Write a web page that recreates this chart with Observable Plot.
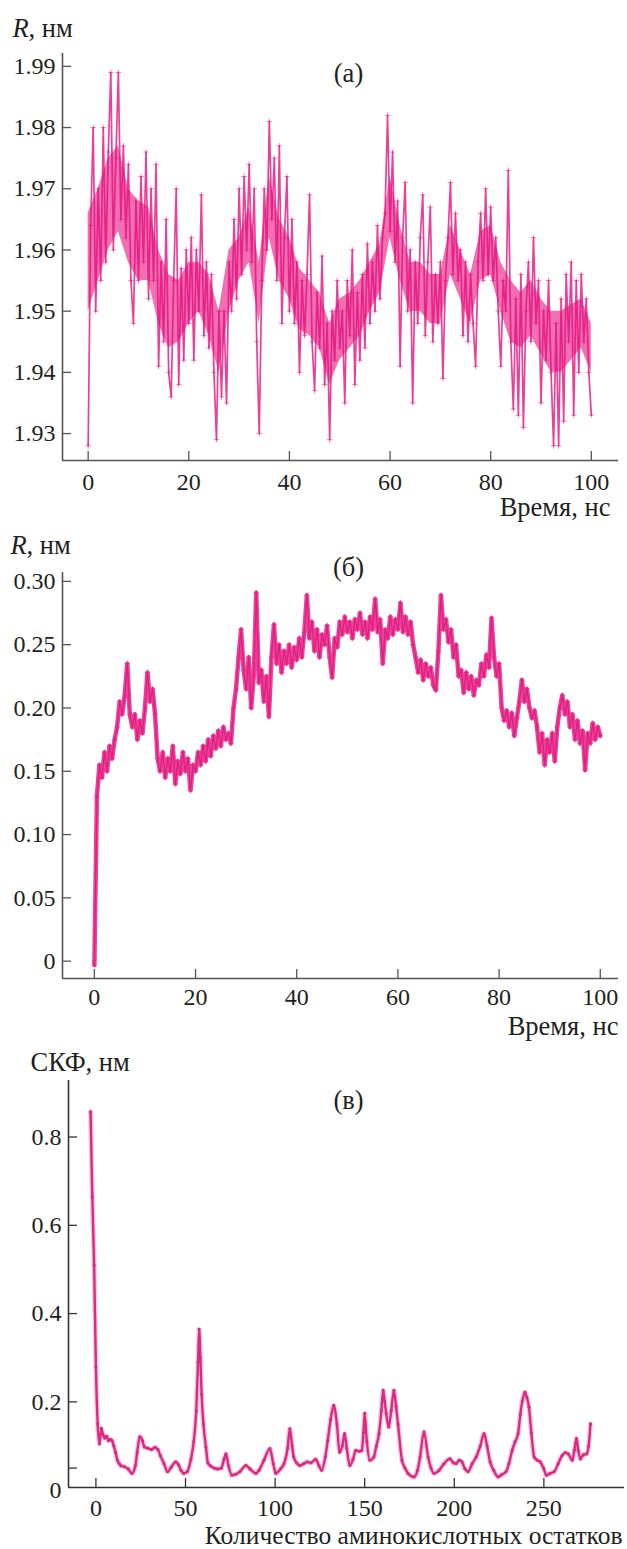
<!DOCTYPE html>
<html><head><meta charset="utf-8">
<script src="https://cdn.jsdelivr.net/npm/d3@7"></script>
<script src="https://cdn.jsdelivr.net/npm/@observablehq/plot@0.6"></script>
<style>
body{margin:0;background:#fff;}
#chart{width:627px;}
#chart svg{display:block;font-family:'Liberation Serif','Times New Roman',serif;}
#chart svg text{font-family:'Liberation Serif','Times New Roman',serif;}
</style></head><body><div id="chart"></div>
<script>
// ---------- data ----------
const timeStep = 0.5; // ns between successive values in panels (а) and (б)
const bandStep = 2;   // ns between successive core-band values in panel (а)

// (а) R, nm vs time, t = 0, 0.5, ... 100 ns
const radiusA = [
1.928,1.964,1.980,1.950,1.970,1.955,1.980,1.958,1.976,1.989,
1.960,1.975,1.989,1.965,1.977,1.962,1.974,1.955,1.948,1.968,
1.955,1.972,1.958,1.976,1.952,1.970,1.955,1.974,1.941,1.958,
1.945,1.965,1.940,1.936,1.955,1.970,1.938,1.957,1.942,1.960,
1.948,1.962,1.942,1.960,1.950,1.969,1.946,1.958,1.944,1.956,
1.940,1.929,1.950,1.936,1.950,1.935,1.958,1.950,1.965,1.952,
1.970,1.956,1.972,1.960,1.974,1.958,1.970,1.945,1.930,1.955,
1.970,1.960,1.981,1.965,1.975,1.955,1.977,1.948,1.962,1.972,
1.950,1.965,1.948,1.958,1.940,1.955,1.946,1.956,1.969,1.945,
1.937,1.953,1.944,1.959,1.938,1.948,1.929,1.950,1.942,1.955,
1.944,1.950,1.935,1.955,1.946,1.960,1.938,1.953,1.942,1.956,
1.944,1.961,1.948,1.958,1.950,1.964,1.952,1.962,1.966,1.982,
1.963,1.976,1.958,1.968,1.941,1.962,1.971,1.950,1.960,1.935,
1.958,1.948,1.962,1.969,1.946,1.958,1.967,1.945,1.956,1.948,
1.958,1.939,1.955,1.962,1.971,1.956,1.966,1.955,1.960,1.946,
1.958,1.945,1.956,1.948,1.941,1.958,1.966,1.955,1.970,1.956,
1.967,1.955,1.962,1.950,1.941,1.955,1.950,1.973,1.945,1.934,
1.952,1.933,1.956,1.931,1.950,1.958,1.945,1.962,1.948,1.955,
1.935,1.950,1.942,1.955,1.940,1.928,1.948,1.928,1.952,1.932,
1.956,1.945,1.958,1.933,1.955,1.940,1.956,1.945,1.952,1.940,
1.933
];
// (а) dense core band, t = 0, 2, ... 100 ns
const bandLoA = [
1.950,1.955,1.960,1.963,1.958,1.955,1.955,1.948,1.944,1.945,
1.948,1.950,1.946,1.940,1.950,1.955,1.958,1.948,1.962,1.955,
1.952,1.947,1.946,1.944,1.938,1.942,1.944,1.946,1.950,1.953,
1.962,1.955,1.950,1.950,1.948,1.948,1.956,1.952,1.948,1.955,
1.956,1.950,1.945,1.944,1.946,1.943,1.940,1.940,1.942,1.944,
1.940
];
const bandHiA = [
1.966,1.970,1.975,1.977,1.970,1.968,1.967,1.960,1.956,1.955,
1.958,1.958,1.956,1.950,1.960,1.962,1.967,1.958,1.972,1.965,
1.962,1.957,1.955,1.953,1.948,1.952,1.953,1.955,1.958,1.961,
1.972,1.964,1.958,1.958,1.956,1.956,1.964,1.960,1.956,1.963,
1.964,1.958,1.955,1.953,1.955,1.952,1.950,1.950,1.951,1.952,
1.948
];

// (б) R, nm vs time, t = 0, 0.5, ... 100 ns
const radiusB = [
-0.003,0.130,0.155,0.145,0.165,0.150,0.170,0.160,0.175,0.185,
0.205,0.195,0.210,0.235,0.195,0.185,0.195,0.175,0.190,0.180,
0.200,0.228,0.205,0.215,0.195,0.160,0.150,0.165,0.145,0.160,
0.150,0.170,0.140,0.158,0.148,0.165,0.150,0.160,0.135,0.155,
0.150,0.165,0.155,0.170,0.158,0.175,0.162,0.178,0.168,0.182,
0.170,0.185,0.175,0.180,0.172,0.200,0.215,0.240,0.262,0.230,
0.215,0.240,0.200,0.225,0.291,0.220,0.230,0.205,0.225,0.193,
0.240,0.266,0.235,0.250,0.228,0.245,0.235,0.250,0.232,0.248,
0.238,0.255,0.240,0.260,0.289,0.255,0.268,0.245,0.262,0.240,
0.258,0.250,0.265,0.240,0.224,0.255,0.248,0.268,0.258,0.272,
0.260,0.268,0.255,0.270,0.262,0.275,0.258,0.268,0.255,0.272,
0.262,0.286,0.260,0.270,0.235,0.262,0.255,0.272,0.258,0.270,
0.262,0.283,0.260,0.272,0.258,0.268,0.250,0.240,0.228,0.238,
0.222,0.235,0.225,0.232,0.218,0.214,0.245,0.289,0.262,0.270,
0.252,0.262,0.240,0.250,0.225,0.230,0.212,0.228,0.215,0.225,
0.210,0.222,0.218,0.235,0.225,0.242,0.232,0.271,0.240,0.225,
0.235,0.200,0.190,0.198,0.185,0.196,0.178,0.192,0.205,0.222,
0.205,0.215,0.200,0.192,0.198,0.185,0.165,0.180,0.155,0.175,
0.165,0.180,0.158,0.185,0.200,0.210,0.195,0.205,0.185,0.195,
0.175,0.190,0.172,0.182,0.151,0.180,0.172,0.188,0.175,0.185,
0.178
];

// (в) RMSF (СКФ), nm vs residue number
const residueC = [
-3,-2,-1,0,1,2,3,4,5,6,7,8,9,10,11,12,13,14,16,18,20,22,23,24.5,26,27,29,31,33,34.6,
36,38,40,42,44.6,46,47.5,49,51,53,54.6,56,57,57.6,58.3,59,60,61.4,62.5,64,66,68,70,
71.5,72.6,74,75.9,78,80.4,83.7,86,89.3,91,93.8,97.1,99,100.4,103,105,107,108.2,109.5,
110.4,112,113.8,116,118,120,122.7,124.5,126,128,129.4,131,132.7,134.5,136,137.5,138.8,
140,141.7,143.5,145,147,148.4,149.3,150,151.2,152.9,155.1,156.5,158,159.3,160.3,161.2,
162,163.4,164.8,166.3,167.5,168.6,170.8,172.5,174.2,177.5,179.5,180.9,183.1,185.4,187,
188.7,191.5,194.3,197.6,199.5,201,202.8,204.3,206,207.7,210,212.2,214.5,216.6,218.3,
220,222,224.5,226.5,228.9,230.5,232.3,234,235.6,236.8,237.9,239.4,240.5,241.7,243,
244.6,246.3,248,249.8,251.4,253.5,255.8,258,260.3,262,263.6,265.9,267,268.2,269.2,
270.4,272,273.8,275,276
];
const rmsfC = [
0.857,0.664,0.509,0.279,0.150,0.105,0.140,0.125,0.118,0.122,0.112,0.115,0.112,0.100,0.085,0.068,0.060,0.055,0.053,0.048,0.038,0.055,0.085,0.121,0.112,0.098,0.095,0.092,0.097,0.092,
0.078,0.060,0.042,0.052,0.064,0.058,0.045,0.038,0.042,0.070,0.110,0.180,0.290,0.364,0.300,0.217,0.150,0.098,0.062,0.055,0.050,0.048,0.050,
0.070,0.082,0.055,0.034,0.036,0.042,0.056,0.048,0.038,0.045,0.068,0.094,0.060,0.038,0.048,0.060,0.095,0.139,0.100,
0.075,0.062,0.056,0.060,0.064,0.062,0.070,0.055,0.045,0.075,0.113,0.160,0.192,0.150,0.086,0.100,0.128,
0.095,0.056,0.070,0.090,0.088,0.090,0.130,0.174,0.110,0.068,0.075,0.100,0.128,0.180,0.226,0.200,
0.174,0.143,0.180,0.226,0.190,0.150,0.068,0.050,0.038,0.030,0.045,0.075,0.132,0.075,0.050,
0.038,0.045,0.060,0.071,0.062,0.060,0.068,0.064,0.048,0.042,0.060,0.075,0.100,0.128,0.100,
0.064,0.045,0.030,0.035,0.042,0.060,0.090,0.110,0.128,0.170,0.200,0.222,0.210,0.188,0.130,
0.075,0.068,0.064,0.050,0.034,0.038,0.042,0.060,0.079,0.085,0.082,0.068,0.090,0.117,0.090,
0.071,0.080,0.082,0.100,0.150
];

// ticks
const ticksTime = [0, 20, 40, 60, 80, 100];
const ticksA = [1.93, 1.94, 1.95, 1.96, 1.97, 1.98, 1.99];
const ticksB = [0, 0.05, 0.10, 0.15, 0.20, 0.25, 0.30];
const ticksResidue = [0, 50, 100, 150, 200, 250];
const ticksCLabels = [0, 0.2, 0.4, 0.6, 0.8];
const ticksCMarks = [0.05, 0.2, 0.4, 0.6, 0.8];

// labels
const labelR = "R";
const labelUnit = ", нм";
const labelTime = "Время, нс";
const labelRMSF = "СКФ, нм";
const labelResidue = "Количество аминокислотных остатков";
const panelNames = ["(а)", "(б)", "(в)"];

// ---------- drawing ----------
const FONT = "'Liberation Serif', 'Times New Roman', serif";
const STYLE = `font-family: ${FONT}; font-size: 24px; color: #231f20; background: #fff;`;
const TEXT = "#231f20";
const AXIS = "#555555";
const tickLen = 9;
const TITLE = 26.5;

const seriesA = radiusA.map((r, i) => ({t: i * timeStep, r}));
const bandA = bandLoA.map((lo, i) => ({t: i * bandStep, lo, hi: bandHiA[i]}));
const seriesB = radiusB.map((r, i) => ({t: i * timeStep, r}));
const seriesC = residueC.map((n, i) => ({n, v: rmsfC[i]}));

function frameAxes(xDomain, yDomain, xTicks, yTickMarks, yTickLabels, xFmt, yFmt, xPad, axisColor) {
  return [
    Plot.ruleX([xDomain[0]], {stroke: axisColor, strokeWidth: 1.6}),
    Plot.ruleY([yDomain[0]], {stroke: axisColor, strokeWidth: 1.6}),
    // inward tick marks
    Plot.axisY(yTickMarks, {anchor: "left", label: null, tickSize: tickLen, dx: tickLen, tickFormat: () => "", stroke: axisColor, strokeWidth: 1.3}),
    Plot.axisX(xTicks, {anchor: "bottom", label: null, tickSize: tickLen, dy: -tickLen, tickFormat: () => "", stroke: axisColor, strokeWidth: 1.3}),
    // tick labels
    Plot.axisY(yTickLabels, {anchor: "left", label: null, tickSize: 0, tickPadding: 7, tickFormat: yFmt, fill: TEXT, fontSize: 24}),
    Plot.axisX(xTicks, {anchor: "bottom", label: null, tickSize: 0, tickPadding: xPad, tickFormat: xFmt, fill: TEXT, fontSize: 24})
  ];
}

function txt(s, o) {
  return Plot.text([s], {text: d => d, fill: TEXT, fontSize: TITLE, lineAnchor: "middle", ...o});
}

const root = document.getElementById("chart");

// Panel (а): page y 0..525
{
  const xD = [-5.1, 105.4], yD = [1.9256, 1.9921];
  const p = Plot.plot({
    width: 627, height: 525,
    marginLeft: 62, marginRight: 9, marginTop: 53, marginBottom: 65,
    style: STYLE,
    x: {domain: xD}, y: {domain: yD},
    marks: [
      Plot.areaY(bandA, {x: "t", y1: "lo", y2: "hi", fill: "#e8107f", fillOpacity: 0.6}),
      Plot.line(seriesA, {x: "t", y: "r", stroke: "#e5107e", strokeWidth: 1.7, strokeOpacity: 0.8}),
      Plot.dot(seriesA, {x: "t", y: "r", symbol: "plus", r: 2, stroke: "#e5147f", strokeWidth: 0.8, strokeOpacity: 0.6}),
      ...frameAxes(xD, yD, ticksTime, ticksA, ticksA, d => String(d), d => d.toFixed(2), 12, AXIS),
      txt(labelR, {frameAnchor: "top-left", textAnchor: "start", dx: -50, dy: -25, fontStyle: "italic"}),
      txt(labelUnit, {frameAnchor: "top-left", textAnchor: "start", dx: -34, dy: -25}),
      txt(panelNames[0], {frameAnchor: "top", textAnchor: "middle", dx: 8, dy: 20}),
      txt(labelTime, {frameAnchor: "bottom-right", textAnchor: "end", dx: -8, dy: 47})
    ]
  });
  root.appendChild(p);
}

// Panel (б): page y 525..1044
{
  const xD = [-6.3, 103.6], yD = [-0.0137, 0.307];
  const p = Plot.plot({
    width: 627, height: 519,
    marginLeft: 62, marginRight: 9, marginTop: 47, marginBottom: 66,
    style: STYLE,
    x: {domain: xD}, y: {domain: yD},
    marks: [
      Plot.line(seriesB, {x: "t", y: "r", stroke: "#e8107f", strokeWidth: 4.5, strokeOpacity: 0.8, strokeLinejoin: "round"}),
      Plot.line(seriesB, {x: "t", y: "r", stroke: "#d81577", strokeWidth: 1.2, strokeOpacity: 0.8}),
      Plot.dot(seriesB, {x: "t", y: "r", symbol: "plus", r: 2, stroke: "#e11c7f", strokeWidth: 0.8, strokeOpacity: 0.6}),
      ...frameAxes(xD, yD, ticksTime, ticksB, ticksB, d => String(d), d => d === 0 ? "0" : d.toFixed(2), 9, AXIS),
      txt(labelR, {frameAnchor: "top-left", textAnchor: "start", dx: -52, dy: -27, fontStyle: "italic"}),
      txt(labelUnit, {frameAnchor: "top-left", textAnchor: "start", dx: -36, dy: -27}),
      txt(panelNames[1], {frameAnchor: "top", textAnchor: "middle", dx: 8, dy: -5}),
      txt(labelTime, {frameAnchor: "bottom-right", textAnchor: "end", dx: 0, dy: 48})
    ]
  });
  root.appendChild(p);
}

// Panel (в): page y 1044..1549
{
  const xD = [-15.3, 295], yD = [0.006, 0.928];
  const p = Plot.plot({
    width: 627, height: 505,
    marginLeft: 68, marginRight: 3, marginTop: 36, marginBottom: 62,
    style: STYLE,
    x: {domain: xD}, y: {domain: yD},
    marks: [
      Plot.line(seriesC, {x: "n", y: "v", stroke: "#f0a3c8", strokeWidth: 5, strokeOpacity: 0.6, curve: "monotone-x"}),
      Plot.line(seriesC, {x: "n", y: "v", stroke: "#d92b82", strokeWidth: 2.4, curve: "monotone-x"}),
      Plot.dot(seriesC, {x: "n", y: "v", r: 1.6, fill: "#d92b82"}),
      ...frameAxes(xD, yD, ticksResidue, ticksCMarks, ticksCLabels, d => String(d), d => d === 0 ? "0" : d.toFixed(1), 11, "#333333"),
      txt(labelRMSF, {frameAnchor: "top-left", textAnchor: "start", dx: -38, dy: -18}),
      txt(panelNames[2], {frameAnchor: "top", textAnchor: "middle", dx: 2, dy: 20}),
      txt(labelResidue, {frameAnchor: "bottom-right", textAnchor: "end", dx: -2, dy: 48, fontSize: 25.5})
    ]
  });
  root.appendChild(p);
}
</script>
</body></html>
